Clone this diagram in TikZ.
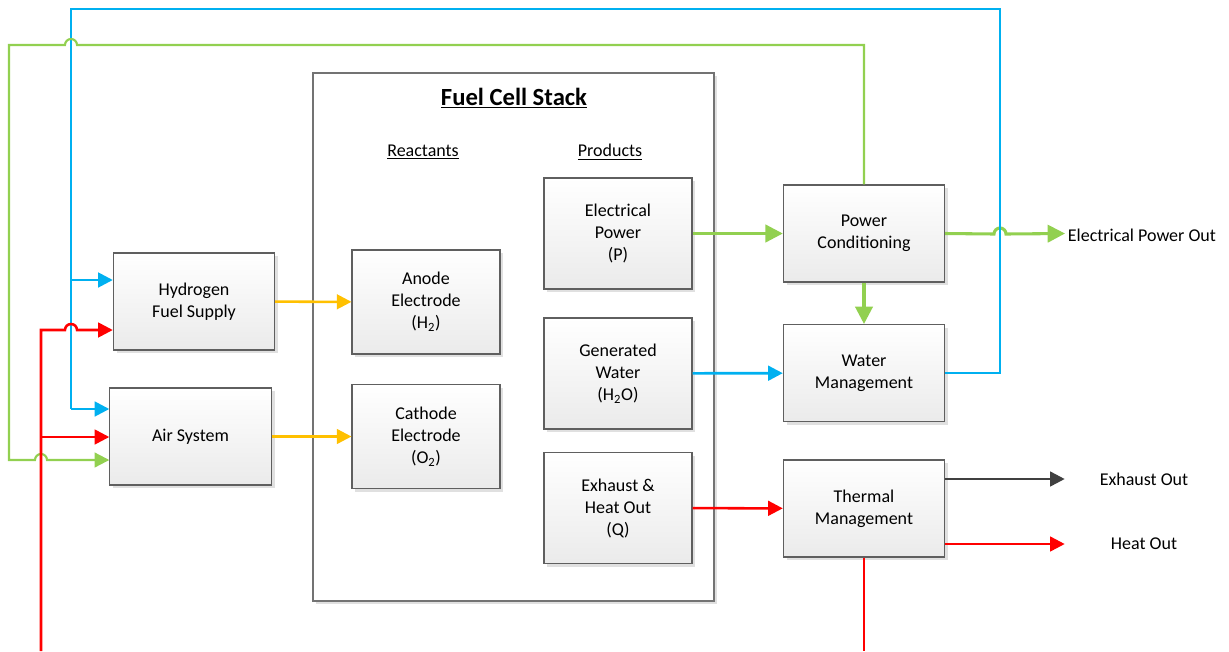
\documentclass[tikz,border=0pt]{standalone}
\usepackage{fontspec}
\setmainfont{Carlito}
\usepackage{tikz}
\usetikzlibrary{positioning,arrows.meta,shadows}
\definecolor{cblue}{RGB}{0,176,240}
\definecolor{cgreen}{RGB}{146,208,80}
\definecolor{cred}{RGB}{255,0,0}
\definecolor{cyellow}{RGB}{255,192,0}
\definecolor{cdark}{RGB}{64,64,64}
\definecolor{cedge}{RGB}{95,95,95}
\tikzset{
  % --- blocks ----------------------------------------------------------------
  blk/.style={rectangle,draw=cedge,line width=0.8pt,top color=white,
              bottom color=black!8,align=center,inner sep=2pt,
              font=\fontsize{13.5}{16.5}\selectfont,
              drop shadow={shadow xshift=2.5pt,shadow yshift=-2.5pt,
                           fill=black!12,opacity=1}},
  sidebox/.style={blk,minimum width=121pt,minimum height=72.75pt},
  cellbox/.style={blk,minimum width=111pt,minimum height=78pt},
  prodbox/.style={blk,minimum width=111pt,minimum height=83.25pt},
  stackbox/.style={rectangle,draw=black!55,line width=0.8pt,fill=white,
                   minimum width=300.75pt,minimum height=396pt,
                   drop shadow={shadow xshift=2.5pt,shadow yshift=-2.5pt,
                                fill=black!12,opacity=1}},
  lab/.style={font=\fontsize{13.5}{16.5}\selectfont,inner sep=2pt},
  outlab/.style={lab,minimum width=118.5pt,align=center},
  % --- flows -----------------------------------------------------------------
  tip/.style={-{Triangle[length=11pt,width=11pt]}},
  bigtip/.style={-{Triangle[length=13pt,width=13pt]}},
  bluef/.style={cblue,line width=2pt},
  greenf/.style={cgreen,line width=1.6pt},
  greenb/.style={cgreen,line width=2.3pt},
  redf/.style={cred,line width=1.9pt},
  yelf/.style={cyellow,line width=1.9pt},
  darkf/.style={cdark,line width=1.9pt},
}
\begin{document}
\begin{tikzpicture}[x=0.75pt,y=-0.75pt]
  \useasboundingbox (0,0) rectangle (1229,651);
  % --- the stack ---------------------------------------------------------
  \node[stackbox] (stack) at (513.5,337) {};
  \node[font=\fontsize{18.5}{22}\selectfont\bfseries] (title) at (514,98)
       {\underline{Fuel Cell Stack}};
  \node[lab] (react) at (423,152) {\underline{Reactants}};
  \node[lab] (prod)  at (610,152) {\underline{Products}};
  % --- supplies ----------------------------------------------------------
  \node[sidebox] (hfs) at (194,301.5) {Hydrogen\\Fuel Supply};
  \node[sidebox] (air) at (190.5,436.5) {Air System};
  % --- reactants and products --------------------------------------------
  \node[cellbox] (anode)   at (426,302)   {Anode\\Electrode\\(H\textsubscript{2})};
  \node[cellbox] (cathode) at (426,436.5) {Cathode\\Electrode\\(O\textsubscript{2})};
  \node[prodbox] (elec)  at (618,233.5) {Electrical\\Power\\(P)};
  \node[prodbox] (water) at (618,373.5) {Generated\\Water\\(H\textsubscript{2}O)};
  \node[prodbox] (heat)  at (618,508)   {Exhaust \&\\Heat Out\\(Q)};
  % --- balance of plant --------------------------------------------------
  \node[sidebox] (pc) at (864,233.5) {Power\\Conditioning};
  \node[sidebox] (wm) at (864,373)   {Water\\Management};
  \node[sidebox] (tm) at (864,508.5) {Thermal\\Management};
  % --- outputs -----------------------------------------------------------
  \node[lab,anchor=west] (epo) at (1065,235) {Electrical Power Out};
  \node[outlab] (exo) at (1144,479) {Exhaust Out};
  \node[outlab] (hto) at (1144,544) {Heat Out};

  % corner points of the loops
  \coordinate (bTR) at (1000,9);   \coordinate (bTL) at (71,9);
  \coordinate (bH)  at (71,280);   \coordinate (bA)  at (71,409);
  \coordinate (gTR) at (864,45);   \coordinate (gTL) at (9,45);
  \coordinate (gA)  at (9,460);
  \coordinate (rB)  at (41,651);   \coordinate (rH)  at (41,330);
  \coordinate (rA)  at (41,437);   \coordinate (rT)  at (864,651);

  % reactant feeds
  \draw[yelf,tip] (hfs) -- (anode);
  \draw[yelf,tip] (air.east |- cathode) -- (cathode);
  % product streams
  \draw[greenb,bigtip] (elec) -- (pc);
  \draw[bluef,tip] (water) -- (wm);
  \draw[redf,tip] (heat) -- (tm);
  \draw[greenb,bigtip] (pc) -- (wm);
  % outputs
  \draw[greenb,bigtip] (pc.east) -- (994,234)
       arc[start angle=180,end angle=360,radius=6] -- (epo.west |- pc.east);
  \draw[darkf,tip] (tm.east |- exo) -- (exo.west);
  \draw[redf,tip] (tm.east |- hto) -- (hto.west);
  % water loop back to the supplies
  \draw[bluef] (wm.east) -| (bTR) -- (bTL) -- (bA);
  \draw[bluef,tip] (bA) -- (air.west |- bA);
  \draw[bluef,tip] (bH) -- (hfs.west |- bH);
  % power loop back to the air system
  \draw[greenf,tip] (pc.north) -- (gTR) -- (77,45)
       arc[start angle=0,end angle=-180,radius=6] -- (gTL) -- (gA) -- (35,460)
       arc[start angle=180,end angle=360,radius=6] -- (air.west |- gA);
  % heat loop
  \draw[redf,tip] (rB) -- (rH) -- (65,330)
       arc[start angle=180,end angle=360,radius=6] -- (hfs.west |- rH);
  \draw[redf,tip] (rA) -- (air.west |- rA);
  \draw[redf] (tm.south) -- (rT);
\end{tikzpicture}
\end{document}
